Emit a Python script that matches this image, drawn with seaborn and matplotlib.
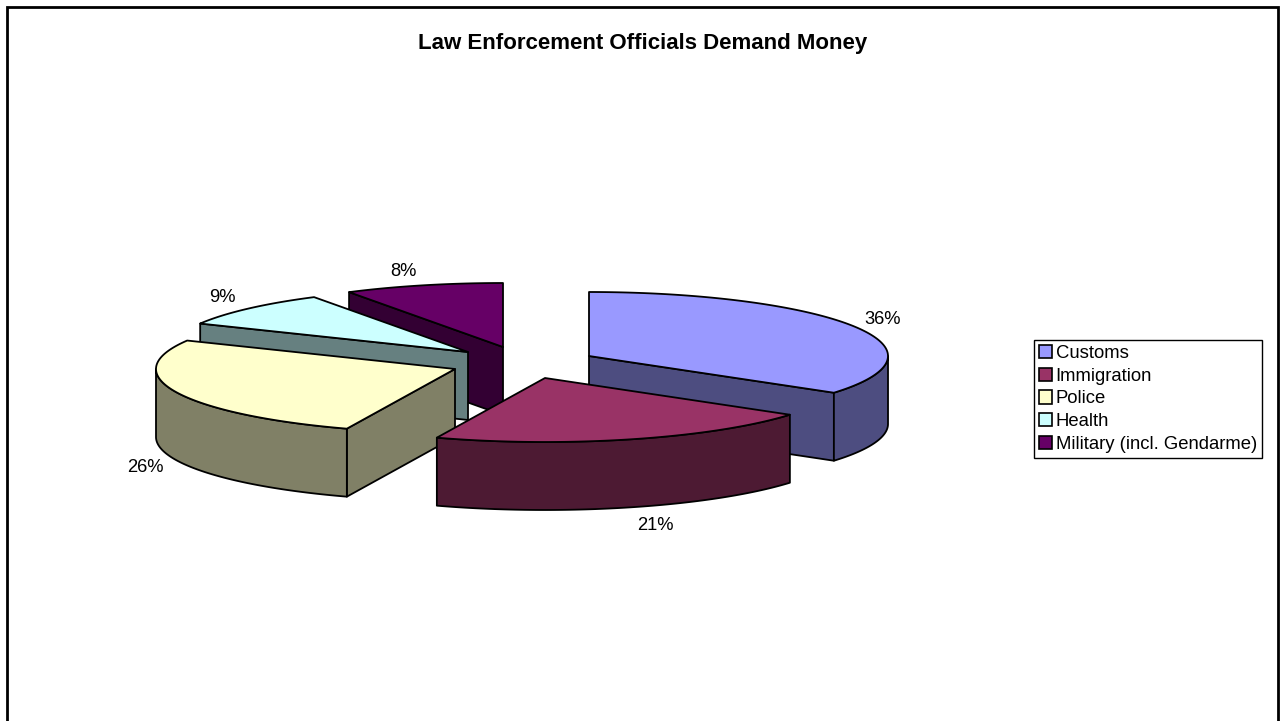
import numpy as np
import matplotlib
matplotlib.use("Agg")
import matplotlib.pyplot as plt
from matplotlib.patches import Patch
import seaborn as sns

# Survey shares
categories = ["Customs", "Immigration", "Police", "Health", "Military (incl. Gendarme)"]
shares = [36, 21, 26, 9, 8]
top_colors = ["#9999FF", "#993366", "#FFFFCC", "#CCFFFF", "#660066"]

# Layout in pixels: apex of each pulled-out slice and its label centre
apexes = [(589, 356), (545, 378), (455, 369), (468, 352), (503, 347)]
label_xy = [(883, 319), (655, 525), (145, 468), (222, 297), (403, 272)]
draw_order = [4, 3, 0, 2, 1]
RX, RY, DEPTH = 299, 64, 68

# Perspective pulls the pie's far side round: shift in degrees against pie angle
VIEW_ANGLES = [0, 130, 205, 299, 331, 360]
VIEW_SHIFTS = [0, 4.6, 4.0, 2.4, 2.2, 0]

sns.set_theme(style="white")
plt.rcParams["font.family"] = ["Liberation Sans", "DejaVu Sans"]
palette = sns.color_palette(top_colors)


def view_angle(theta):
    deg = np.degrees(theta)
    return np.radians(deg - np.interp(deg, VIEW_ANGLES, VIEW_SHIFTS))


def rim(apex, phi, drop=0):
    phi = np.asarray(phi)
    return np.column_stack(
        [apex[0] + RX * np.sin(phi), apex[1] - RY * np.cos(phi) + drop]
    )


fig = plt.figure(figsize=(12.84, 7.21), dpi=100)
ax = fig.add_axes([0, 0, 1, 1])
ax.set_xlim(0, 1284)
ax.set_ylim(721, 0)
ax.set_axis_off()

edges = np.concatenate([[0], np.cumsum(shares)]) / np.sum(shares) * 2 * np.pi
line = dict(edgecolor="black", linewidth=1.3, joinstyle="round")

for i in draw_order:
    apex = apexes[i]
    p0, p1 = view_angle(edges[i]), view_angle(edges[i + 1])
    top = palette[i]
    side = tuple(c * 0.5 for c in top)

    # Cut faces that turn toward the viewer
    for p, visible in ((p0, np.sin(p0) < -1e-6), (p1, np.sin(p1) > 1e-6)):
        if visible:
            q = rim(apex, [p])[0]
            ax.fill([apex[0], q[0], q[0], apex[0]],
                    [apex[1], q[1], q[1] + DEPTH, apex[1] + DEPTH],
                    facecolor=side, **line)

    # Outer wall, front half only
    a, b = max(p0, np.pi / 2), min(p1, 3 * np.pi / 2)
    if b > a:
        arc = np.linspace(a, b, 80)
        upper, lower = rim(apex, arc), rim(apex, arc, DEPTH)[::-1]
        wall = np.vstack([upper, lower])
        ax.fill(wall[:, 0], wall[:, 1], facecolor=side, **line)

    # Top surface
    arc = rim(apex, np.linspace(p0, p1, 120))
    poly = np.vstack([[apex], arc])
    ax.fill(poly[:, 0], poly[:, 1], facecolor=top, **line)

for share, (x, y) in zip(shares, label_xy):
    ax.text(x, y, f"{share}%", ha="center", va="center", fontsize=13.2, color="black")

ax.text(643, 43, "Law Enforcement Officials Demand Money", ha="center", va="center",
        fontsize=16.05, fontweight="bold", color="black")

# Outer chart frame, running off the bottom of the canvas
ax.plot([7, 7, 1278, 1278], [740, 7, 7, 740], color="black", lw=2.0,
        solid_joinstyle="miter")

handles = [Patch(facecolor=c, edgecolor="black", linewidth=1.2) for c in palette]
leg = ax.legend(handles, categories, loc="upper left",
                bbox_to_anchor=(1034, 340), bbox_transform=ax.transData,
                fontsize=13.35, frameon=True, fancybox=False, framealpha=1,
                edgecolor="black", borderpad=0.27, labelspacing=0.3,
                handlelength=0.72, handleheight=0.72, handletextpad=0.17,
                borderaxespad=0, labelcolor="black")
leg.get_frame().set_linewidth(1.0)

fig.savefig("out.png", dpi=100, facecolor="white")
